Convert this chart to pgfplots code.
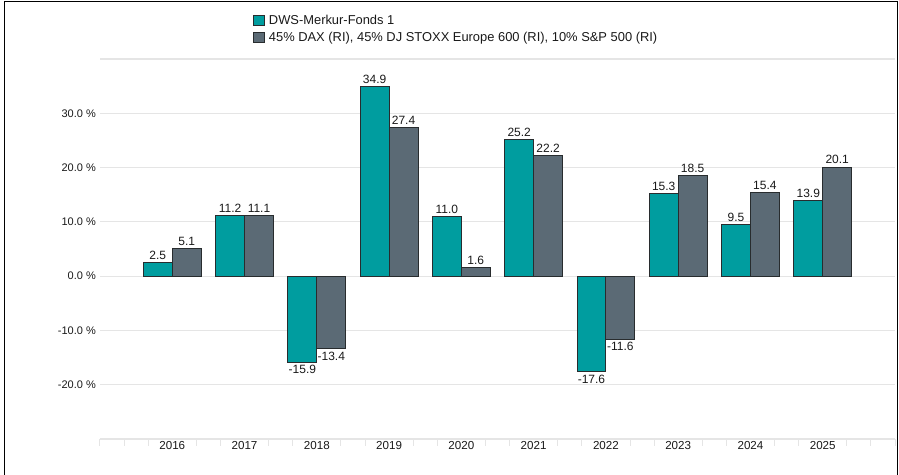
\documentclass[border=0pt]{standalone}
\usepackage{fontspec}
\setmainfont{Liberation Sans}
\usepackage{pgfplots}
\pgfplotsset{compat=1.18}
\definecolor{teal1}{RGB}{0,157,159}
\definecolor{slate}{RGB}{91,106,117}
\definecolor{gridc}{RGB}{229,229,229}
\definecolor{textc}{RGB}{25,25,25}
\definecolor{edgec}{RGB}{40,44,46}
\begin{document}
\begin{tikzpicture}
\useasboundingbox (-100bp,-36bp) rectangle (799bp,439bp);
\begin{axis}[
  at={(0,0)}, anchor=south west,
  scale only axis, width=795bp, height=380bp,
  xmin=0, xmax=11, ymin=-30, ymax=40,
  ybar=0pt, bar width=0.4,
  axis line style={draw=none},
  xtick={1,2,3,4,5,6,7,8,9,10},
  xticklabels={2016,2017,2018,2019,2020,2021,2022,2023,2024,2025},
  xtick pos=bottom, ytick pos=left,
  major tick length=0pt,
  ytick={-30,-20,-10,0,10,20,30,40},
  yticklabels={,-20.0 \%,-10.0 \%,0.0 \%,10.0 \%,20.0 \%,30.0 \%,},
  ymajorgrids, grid style={draw=gridc, line width=1.2bp},
  tick label style={font=\fontsize{11bp}{13bp}\selectfont, text=textc},
  xticklabel style={font=\fontsize{11.6bp}{13bp}\selectfont, inner ysep=2bp},
  yticklabel style={inner xsep=4bp},
  extra x ticks={0,0.3333,0.6667,1.3333,1.6667,2.3333,2.6667,3.3333,3.6667,4.3333,4.6667,5.3333,5.6667,6.3333,6.6667,7.3333,7.6667,8.3333,8.6667,9.3333,9.6667,10.3333,10.6667,11},
  extra x tick labels={},
  extra tick style={major tick length=7bp, tick align=outside, tick style={draw=gridc, line width=1bp}, grid=none},
  nodes near coords={\pgfmathprintnumber[fixed,fixed zerofill,precision=1,assume math mode=true]{\pgfplotspointmeta}},
  nodes near coords style={font=\fontsize{12bp}{14bp}\selectfont, text=textc, inner sep=2.5bp},
  legend style={at={(axis description cs:0.192,1.118)}, anchor=north west, draw=none, fill=none,
    inner sep=0pt, outer sep=0pt, font=\fontsize{12.9bp}{15bp}\selectfont, text=textc,
    row sep=4bp, nodes={inner xsep=4.5bp, inner ysep=1bp}},
  legend cell align=left,
  clip=false,
]
\addplot[fill=teal1, draw=edgec, line width=0.9bp,
  legend image code/.code={\draw[fill=teal1, draw=edgec, line width=0.8bp] (0bp,-5bp) rectangle (11bp,5bp);}]
  coordinates {(1,2.5) (2,11.2) (3,-15.9) (4,34.9) (5,11.0) (6,25.2) (7,-17.6) (8,15.3) (9,9.5) (10,13.9)};
\addplot[fill=slate, draw=edgec, line width=0.9bp,
  legend image code/.code={\draw[fill=slate, draw=edgec, line width=0.8bp] (0bp,-5bp) rectangle (11bp,5bp);}]
  coordinates {(1,5.1) (2,11.1) (3,-13.4) (4,27.4) (5,1.6) (6,22.2) (7,-11.6) (8,18.5) (9,15.4) (10,20.1)};
\legend{DWS-Merkur-Fonds 1, {45\% DAX (RI), 45\% DJ STOXX Europe 600 (RI), 10\% S\&P 500 (RI)}}
\draw[draw=gridc, line width=2bp] (axis cs:0,-30) -- (axis cs:11,-30);
\end{axis}
\draw[black, line width=1.6bp] (-95.5bp,-40bp) -- (-95.5bp,437.6bp) -- (797.6bp,437.6bp) -- (797.6bp,-40bp);
\end{tikzpicture}
\end{document}
